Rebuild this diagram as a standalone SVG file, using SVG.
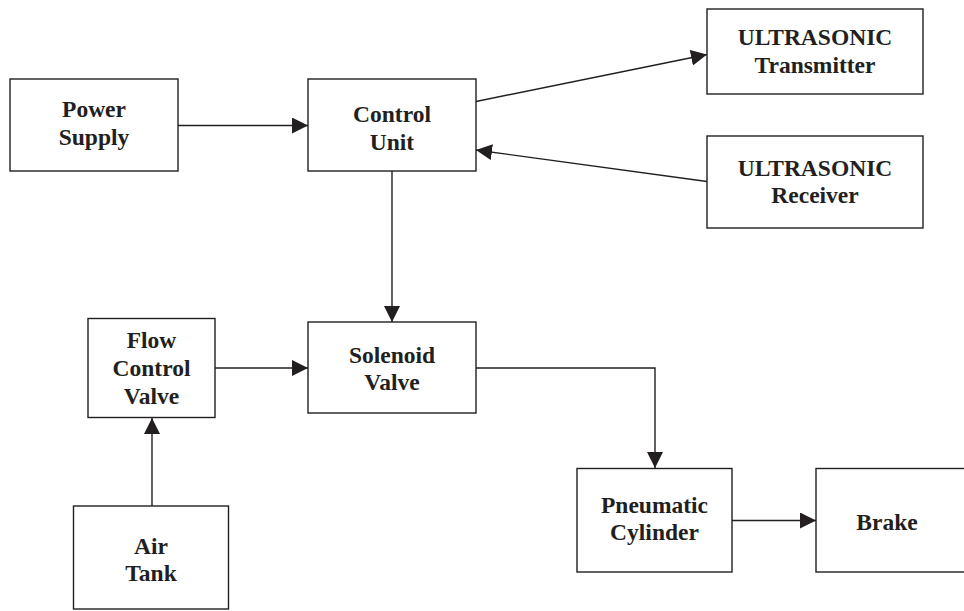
<svg xmlns="http://www.w3.org/2000/svg" width="964" height="611" viewBox="0 0 964 611">
<style>
.box{fill:#fff;stroke:#231f20;stroke-width:1.4}
.ln{fill:none;stroke:#231f20;stroke-width:1.4}
.t{font-family:"Liberation Serif","Times New Roman",serif;font-weight:bold;font-size:23.5px;fill:#231f20;text-anchor:middle}
</style>
<defs>
<marker id="ah" markerUnits="userSpaceOnUse" markerWidth="16" markerHeight="16" refX="16" refY="8" orient="auto">
<path d="M0,0 L16,8 L0,16 z" fill="#231f20"/>
</marker>
</defs>
<rect width="964" height="611" fill="#fff"/>
<g id="connectors">
<line class="ln" x1="178" y1="125.5" x2="308" y2="125.5" marker-end="url(#ah)"/>
<line class="ln" x1="476" y1="101.5" x2="707" y2="54.5" marker-end="url(#ah)"/>
<line class="ln" x1="707" y1="181.5" x2="476" y2="150" marker-end="url(#ah)"/>
<line class="ln" x1="392" y1="171" x2="392" y2="322" marker-end="url(#ah)"/>
<line class="ln" x1="215" y1="368" x2="308" y2="368" marker-end="url(#ah)"/>
<line class="ln" x1="152" y1="506" x2="152" y2="418" marker-end="url(#ah)"/>
<polyline class="ln" points="476,368 655,368 655,468" marker-end="url(#ah)"/>
<line class="ln" x1="732" y1="520.5" x2="816" y2="520.5" marker-end="url(#ah)"/>
</g>
<g id="power-supply">
<rect class="box" x="10" y="79" width="168" height="92"/>
<text class="t" x="94" y="117">Power</text>
<text class="t" x="94" y="145">Supply</text>
</g>
<g id="control-unit">
<rect class="box" x="308" y="79" width="168" height="92"/>
<text class="t" x="392" y="121.5">Control</text>
<text class="t" x="392" y="150">Unit</text>
</g>
<g id="ultrasonic-transmitter">
<rect class="box" x="707" y="9" width="216" height="85"/>
<text class="t" x="815" y="45">ULTRASONIC</text>
<text class="t" x="815" y="73">Transmitter</text>
</g>
<g id="ultrasonic-receiver">
<rect class="box" x="707" y="136" width="216" height="92"/>
<text class="t" x="815" y="175.5">ULTRASONIC</text>
<text class="t" x="815" y="203">Receiver</text>
</g>
<g id="flow-control-valve">
<rect class="box" x="88" y="318.5" width="127" height="99"/>
<text class="t" x="151.5" y="347.5">Flow</text>
<text class="t" x="151.5" y="376">Control</text>
<text class="t" x="151.5" y="403.5">Valve</text>
</g>
<g id="solenoid-valve">
<rect class="box" x="308" y="322" width="168" height="91"/>
<text class="t" x="392" y="362.5">Solenoid</text>
<text class="t" x="392" y="390">Valve</text>
</g>
<g id="air-tank">
<rect class="box" x="73.5" y="506" width="155" height="103"/>
<text class="t" x="151" y="554">Air</text>
<text class="t" x="151" y="581">Tank</text>
</g>
<g id="pneumatic-cylinder">
<rect class="box" x="577" y="468.5" width="155" height="103.5"/>
<text class="t" x="654.5" y="512.5">Pneumatic</text>
<text class="t" x="654.5" y="540">Cylinder</text>
</g>
<g id="brake">
<rect class="box" x="816" y="468.5" width="160" height="103.5"/>
<text class="t" x="887" y="529.5">Brake</text>
</g>
</svg>
